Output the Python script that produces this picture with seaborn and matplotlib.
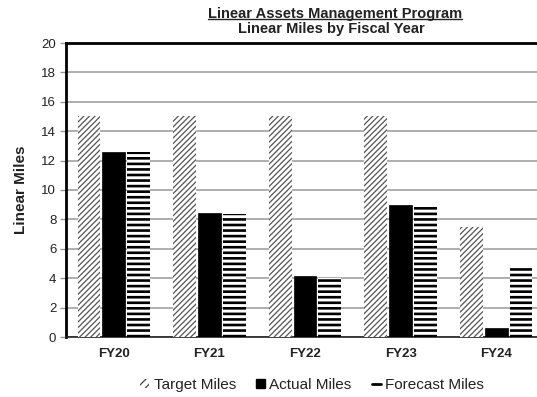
import matplotlib
matplotlib.use("Agg")
import matplotlib.pyplot as plt
import seaborn as sns
import pandas as pd
from matplotlib.patches import Patch
from matplotlib.lines import Line2D

years = ["FY20", "FY21", "FY22", "FY23", "FY24"]
target_miles = [15, 15, 15, 15, 7.5]
actual_miles = [12.6, 8.45, 4.15, 8.95, 0.6]
forecast_miles = [12.6, 8.35, 4.0, 9.0, 4.7]
series_names = ["Target Miles", "Actual Miles", "Forecast Miles"]
y_ticks = [0, 2, 4, 6, 8, 10, 12, 14, 16, 18, 20]

df = pd.DataFrame({
    "year": years * 3,
    "series": [s for s in series_names for _ in years],
    "miles": target_miles + actual_miles + forecast_miles,
})

sns.set_theme(style="white")
plt.rcParams["font.family"] = ["Liberation Sans", "DejaVu Sans"]
plt.rcParams["hatch.linewidth"] = 0.9

fig = plt.figure(figsize=(5.37, 3.97), dpi=100)
ax = fig.add_axes([66 / 537, 60 / 397, 478 / 537, 294 / 397])

sns.barplot(data=df, x="year", y="miles", hue="series", hue_order=series_names,
            order=years, palette=["white", "black", "white"], saturation=1,
            width=0.78, gap=0.08, ax=ax, legend=False, zorder=3)

styles = [
    dict(hatch="//////", edgecolor="#555555", linewidth=0.0, hlw=0.9),
    dict(hatch=None, edgecolor="black", linewidth=0.5, hlw=None),
    dict(hatch="---", edgecolor="black", linewidth=0.0, hlw=1.9),
]
for cont, st in zip(ax.containers, styles):
    for bar in cont:
        bar.set_edgecolor(st["edgecolor"])
        bar.set_linewidth(st["linewidth"])
        if st["hatch"]:
            bar.set_hatch(st["hatch"])
            if st["hlw"] and hasattr(bar, "set_hatch_linewidth"):
                bar.set_hatch_linewidth(st["hlw"])

ax.set_ylim(0, 20)
ax.set_xlim(-0.5, 4.5)
ax.set_yticks(y_ticks)
ax.set_yticklabels([str(t) for t in y_ticks], fontsize=9.5, color="#222222")
ax.yaxis.grid(True, color="#a8a8a8", linewidth=1.3, zorder=0)
ax.set_axisbelow(True)
ax.tick_params(axis="y", which="major", left=True, length=4, width=1,
               color="#999999", pad=3)
ax.tick_params(axis="x", length=0, pad=8)
for lbl in ax.get_xticklabels():
    lbl.set_fontweight("bold")
    lbl.set_fontsize(9.5)
    lbl.set_color("#222222")

ax.set_xlabel("")
ax.set_ylabel("Linear Miles", fontsize=11, fontweight="bold", color="#222222",
              labelpad=10)

for side in ["top", "left"]:
    ax.spines[side].set_visible(True)
    ax.spines[side].set_color("black")
    ax.spines[side].set_linewidth(2.0)
ax.spines["bottom"].set_color("#222222")
ax.spines["bottom"].set_linewidth(1.2)
ax.spines["right"].set_visible(False)

t1 = fig.text(335 / 537, 1 - 14 / 397, "Linear Assets Management Program",
              ha="center", va="center", fontsize=10.5, fontweight="bold",
              color="#222222")
fig.text(331 / 537, 1 - 29 / 397, "Linear Miles by Fiscal Year",
         ha="center", va="center", fontsize=10.5, fontweight="bold",
         color="#222222")

# underline the first title line
fig.canvas.draw()
bb = t1.get_window_extent().transformed(fig.transFigure.inverted())
fig.add_artist(Line2D([bb.x0, bb.x1], [bb.y0 + 0.004, bb.y0 + 0.004],
                      transform=fig.transFigure, color="#222222", linewidth=1.0))

handles = [
    Patch(facecolor="white", edgecolor="#444444", hatch="////", linewidth=0),
    Patch(facecolor="black", edgecolor="black"),
    Line2D([0], [0], color="black", linewidth=2),
]
fig.legend(handles, series_names, loc="center", bbox_to_anchor=(312 / 537, 1 - 385 / 397),
           ncol=3, frameon=False, fontsize=11, handlelength=0.6, handleheight=0.6,
           handletextpad=0.3, columnspacing=1.3, labelcolor="#222222")

fig.savefig("out.png", dpi=100)
